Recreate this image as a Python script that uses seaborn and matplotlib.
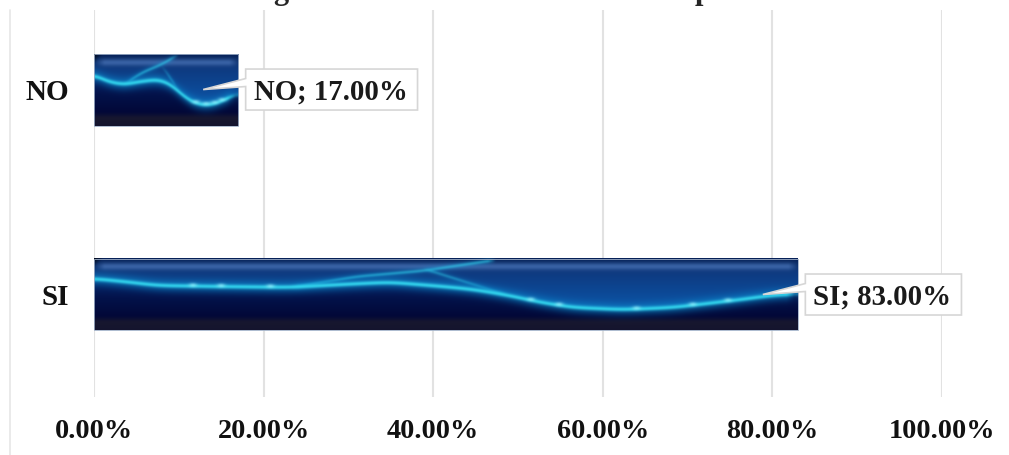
import numpy as np
import pandas as pd
import matplotlib
matplotlib.use("Agg")
import matplotlib.pyplot as plt
import seaborn as sns
from matplotlib.colors import to_rgb
from matplotlib.patches import Polygon
from matplotlib.transforms import IdentityTransform

categories = ["NO", "SI"]
values = [17.0, 83.0]
x_ticks = [0, 20, 40, 60, 80, 100]
x_tick_labels = ["0.00%", "20.00%", "40.00%", "60.00%", "80.00%", "100.00%"]
data_labels = ["NO; 17.00%", "SI; 83.00%"]

# picture fill of the bars, in 0-1 coordinates of one bar (u along, v down)
wave_no = [[0.007, 0.09, 0.2, 0.32, 0.44, 0.53, 0.6, 0.69, 0.785, 0.875, 0.965],
           [0.29, 0.375, 0.417, 0.375, 0.347, 0.417, 0.556, 0.68, 0.708, 0.653, 0.556]]
wave_si = [[0.0, 0.051, 0.089, 0.183, 0.278, 0.374, 0.42, 0.496, 0.538, 0.587, 0.634,
            0.68, 0.751, 0.822, 0.871, 0.918, 0.964, 1.0],
           [0.28, 0.33, 0.375, 0.39, 0.40, 0.35, 0.33, 0.39, 0.43, 0.51, 0.61,
            0.68, 0.71, 0.68, 0.625, 0.57, 0.51, 0.49]]
rise_no = [[0.2, 0.33, 0.46, 0.58], [0.417, 0.25, 0.14, 0.0]]
rise_si = [[0.278, 0.374, 0.467, 0.57], [0.40, 0.25, 0.17, 0.02]]
fall_no = [[0.46, 0.6], [0.14, 0.556]]
fall_si = [[0.467, 0.587], [0.14, 0.51]]
sparks_no = [0.7, 0.77, 0.83, 0.88]
sparks_si = [0.14, 0.18, 0.25, 0.62, 0.66, 0.77, 0.85, 0.9]

upper_v = [0.0, 0.05, 0.2, 0.5, 0.85]
upper_c = ["#061f56", "#0a2a62", "#0e3a80", "#0c4a98", "#0f58ac"]
lower_v = [0.3, 0.55, 0.8, 0.88, 1.0]
lower_c = ["#05256a", "#03124a", "#020838", "#17172f", "#14142e"]


def ramp(v, stops, colors):
    rgb = np.array([to_rgb(c) for c in colors])
    return np.stack([np.interp(v, stops, rgb[:, i]) for i in range(3)], axis=-1)


def smooth(y, n):
    pad = np.pad(y, n, mode="edge")
    return np.convolve(pad, np.ones(2 * n + 1) / (2 * n + 1), mode="valid")


def soften(img):
    # the reference is a blurry photo of a chart
    kernel = np.array([0.25, 0.5, 0.25])
    for axis in (0, 1):
        pad = [(1, 1) if a == axis else (0, 0) for a in range(3)]
        padded = np.pad(img, pad, mode="edge")
        img = np.apply_along_axis(lambda r: np.convolve(r, kernel, mode="valid"), axis, padded)
    return img


def glow(img, dy, strength, sharp=2.0, wide=6.5):
    core = np.exp(-(dy / sharp) ** 2)[..., None] * strength[..., None]
    halo = np.exp(-(dy / wide) ** 2)[..., None] * strength[..., None] * 0.6
    img = img * (1 - halo) + np.array(to_rgb("#0a8cd0")) * halo
    return img * (1 - core) + np.array(to_rgb("#35dcf2")) * core


def bar_fill(w, h, wave, rise, fall, sparks):
    xs = np.arange(w) / w
    ys = np.arange(h) / h
    uu, vv = np.meshgrid(xs, ys)
    n = max(6, w // 60)
    curve = smooth(smooth(np.interp(xs, wave[0], wave[1]), n), n) * h
    py = vv * h
    mix = np.clip((py - curve) / 4 + 0.5, 0, 1)[..., None]
    img = ramp(vv, upper_v, upper_c) * (1 - mix) + ramp(vv, lower_v, lower_c) * mix

    # lighter bevel band along the top
    edge = np.clip(np.minimum(uu * w, (1 - uu) * w) / 10, 0, 1)
    band = np.exp(-((vv - 0.11) / 0.05) ** 2) * edge * 0.7
    img = img * (1 - band[..., None]) + np.array(to_rgb("#4d78bd")) * band[..., None]

    # dark corners of the bevel
    corner = np.clip(1 - (uu * w + vv * h) / 9, 0, 1)
    img = img * (1 - 0.7 * corner[..., None])

    for line, gain in ((rise, 0.55), (fall, 0.4)):
        lc = smooth(np.interp(xs, line[0], line[1]), n) * h
        on = np.clip(np.minimum(xs - line[0][0], line[0][-1] - xs) * w / 8, 0, 1)
        strength = np.tile(on * gain, (h, 1))
        img = glow(img, py - lc, strength, sharp=1.4, wide=3.5)

    fade = np.clip((1 - xs) * w / 12, 0.35, 1) * 0.95
    img = glow(img, py - curve, np.tile(fade, (h, 1)))
    for s in sparks:
        d = ((uu * w - s * w) / 4.0) ** 2 + ((py - np.interp(s, xs, curve) + 1) / 2.0) ** 2
        spot = np.exp(-d)[..., None] * 0.7
        img = img * (1 - spot) + np.array(to_rgb("#9cf2ff")) * spot
    return np.clip(soften(img), 0, 1)


sns.set_theme(style="whitegrid")
plt.rcParams["font.family"] = ["Liberation Serif", "DejaVu Serif"]

W, H = 1009, 455
fig = plt.figure(figsize=(W / 100, H / 100), dpi=100, facecolor="white")
ax = fig.add_axes([94 / W, 1 - 397 / H, (942 - 94) / W, (397 - 10) / H])

df = pd.DataFrame({"answer": categories, "share": values})
sns.barplot(data=df, x="share", y="answer", orient="h", width=0.351,
            color="#0a2a62", ax=ax)

ax.set_xlim(0, 100)
ax.set_ylim(1.5, -0.388)
ax.set_xlabel("")
ax.set_ylabel("")
ax.set_xticks(x_ticks)
ax.set_xticklabels(x_tick_labels, fontsize=20.3, fontweight="bold", color="#111111")
ax.set_yticks(range(len(categories)))
ax.set_yticklabels(categories, fontsize=21, fontweight="bold", color="#111111")
ax.tick_params(axis="x", pad=15.5, length=0)
ax.tick_params(axis="y", pad=18, length=0)
ax.xaxis.grid(True, color="#e2e2e2", linewidth=1.5)
ax.yaxis.grid(False)
ax.set_axisbelow(True)
for side in ax.spines.values():
    side.set_visible(False)

fig.canvas.draw()
fills = [(wave_no, rise_no, fall_no, sparks_no), (wave_si, rise_si, fall_si, sparks_si)]
for patch, parts in zip(ax.patches, fills):
    x0, y0, bw, bh = patch.get_x(), patch.get_y(), patch.get_width(), patch.get_height()
    corners = ax.transData.transform([(x0, y0), (x0 + bw, y0 + bh)])
    w_px = int(round(abs(corners[1, 0] - corners[0, 0])))
    h_px = int(round(abs(corners[1, 1] - corners[0, 1])))
    ax.imshow(bar_fill(w_px, h_px, *parts), extent=(x0, x0 + bw, y0 + bh, y0),
              origin="upper", aspect="auto", zorder=3, interpolation="bilinear")
    patch.set_edgecolor("#9fb0c8")
    patch.set_linewidth(0.6)
    patch.set_facecolor("none")
    patch.set_zorder(4)
ax.set_xlim(0, 100)
ax.set_ylim(1.5, -0.388)

# callouts, placed from the end of each bar (display pixels, y up)
renderer = fig.canvas.get_renderer()
for i, (val, label) in enumerate(zip(values, data_labels)):
    ex, ey = ax.transData.transform((val, i))
    left = ex + 7.5
    txt = ax.text(left + 8, ey, label, transform=IdentityTransform(), fontsize=20.8,
                  fontweight="bold", color="#1a1a1a", va="center_baseline", ha="left", zorder=7)
    right = txt.get_window_extent(renderer).x1 + 10
    top, bottom = ey + 20.5, ey - 20.5
    shape = [(ex - 35, ey), (left, ey + 11), (left, top), (right, top), (right, bottom),
             (left, bottom), (left, ey + 3)]
    ax.add_patch(Polygon(shape, closed=True, facecolor="white", edgecolor="#d6d6d6",
                         linewidth=1.2, transform=IdentityTransform(), zorder=6, clip_on=False))

# chart border on the left, and what is left of the cut off title
fig.add_artist(plt.Line2D([10 / W, 10 / W], [0, 1 - 10 / H], color="#e6e6e6", linewidth=1.2))
fig.text(281 / W, 1 + 1 / H, "g", fontsize=22, fontweight="bold", ha="center", va="baseline")
fig.text(703 / W, 1 + 1 / H, "p", fontsize=22, fontweight="bold", ha="center", va="baseline")

fig.savefig("out.png", dpi=100)
